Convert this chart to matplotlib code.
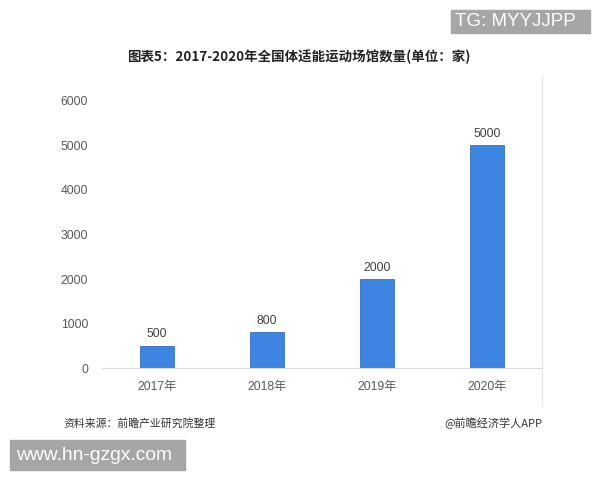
import matplotlib
matplotlib.use("Agg")
import matplotlib.pyplot as plt
from matplotlib.patches import Rectangle

plt.rcParams['font.family'] = ['Noto Sans CJK SC', 'DejaVu Sans']
NUMFONT = ['Liberation Sans', 'Noto Sans CJK SC', 'DejaVu Sans']

categories = ["2017年", "2018年", "2019年", "2020年"]
values = [500, 800, 2000, 5000]
yticks = [0, 1000, 2000, 3000, 4000, 5000, 6000]

title = "图表5：2017-2020年全国体适能运动场馆数量(单位：家)"
source = "资料来源：前瞻产业研究院整理"
credit = "@前瞻经济学人APP"

fig = plt.figure(figsize=(6, 4.8), dpi=100)
ax = fig.add_axes([0.17, 0.2333, 0.733, 0.5563])

x = range(len(categories))
ax.bar(x, values, width=0.31, color="#3d85e0", edgecolor="#3470c0", linewidth=0.6)
for xi, v in zip(x, values):
    ax.text(xi, v + 120, f"{v}", ha="center", va="bottom", fontsize=8.7,
            color="#404040", family=NUMFONT)

ax.set_xlim(-0.5, 3.5)
ax.set_ylim(0, 6000)
ax.set_yticks(yticks)
ax.set_yticklabels([str(t) for t in yticks], family=NUMFONT)
ax.set_xticks(list(x))
ax.set_xticklabels(categories, family=NUMFONT)
ax.tick_params(axis="both", length=0, labelsize=8.7, colors="#595959")
ax.tick_params(axis="y", pad=10)
ax.tick_params(axis="x", pad=9)
for s in ["top", "right", "left"]:
    ax.spines[s].set_visible(False)
ax.spines["bottom"].set_color("#d9d9d9")

fig.text(0.498, 1 - 57/480, title, ha="center", va="center", fontsize=9.7,
         fontweight="bold", color="#222222")
fig.text(63/600, 1 - 423/480, source, ha="left", va="center", fontsize=7.8, color="#333333")
fig.text(542/600, 1 - 423/480, credit, ha="right", va="center", fontsize=8, color="#333333")

# thin border line on the right
fig.add_artist(plt.Line2D([542/600, 542/600], [1 - 405/480, 1 - 75/480], color="#e6e6e6", linewidth=0.8))

# overlay boxes
fig.add_artist(Rectangle((451/600, 1 - 33/480), 139/600, 23/480, color="#a6a6a6",
                         transform=fig.transFigure))
fig.text(515/600, 1 - 21.5/480, "TG: MYYJJPP", ha="center", va="center", fontsize=13.5,
         color="white", family=['Liberation Sans'])
fig.add_artist(Rectangle((10/600, 1 - 470/480), 175/600, 30/480, color="#a6a6a6",
                         transform=fig.transFigure))
fig.text(94/600, 1 - 455/480, "www.hn-gzgx.com", ha="center", va="center", fontsize=13.9,
         color="white", family=['Liberation Sans'])

fig.savefig("out.png", dpi=100)
